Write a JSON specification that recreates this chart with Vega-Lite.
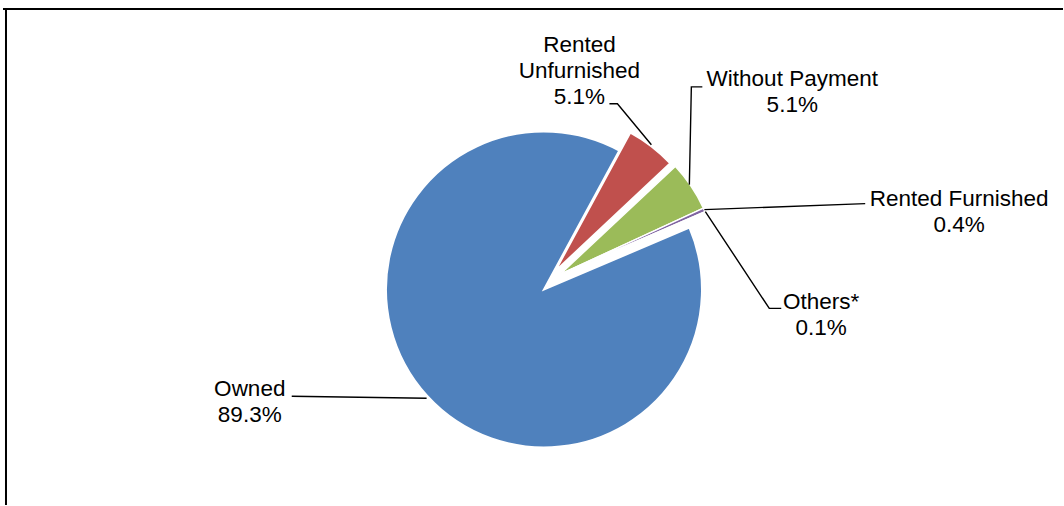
{
  "$schema": "https://vega.github.io/schema/vega-lite/v6.json",
  "width": 1064,
  "height": 506,
  "autosize": {"type": "fit", "contains": "padding"},
  "padding": 0,
  "background": "white",
  "config": {"view": {"stroke": null}, "font": "Liberation Sans"},
  "datasets": {
    "shares": [
      {"tenure": "Owned", "pct": 89.3},
      {"tenure": "Rented Unfurnished", "pct": 5.1},
      {"tenure": "Without Payment", "pct": 5.1},
      {"tenure": "Rented Furnished", "pct": 0.4},
      {"tenure": "Others*", "pct": 0.1}
    ],
    "labels": [
      {"tenure": "Owned", "name": "Owned", "lx": 250, "ly": 397},
      {"tenure": "Rented Unfurnished", "name": "Rented\nUnfurnished", "lx": 580, "ly": 52},
      {"tenure": "Without Payment", "name": "Without Payment", "lx": 793, "ly": 86},
      {"tenure": "Rented Furnished", "name": "Rented Furnished", "lx": 960, "ly": 206},
      {"tenure": "Others*", "name": "Others*", "lx": 822, "ly": 310}
    ],
    "leaders": [
      {"tenure": "Owned", "i": 0, "lx": 292, "ly": 397},
      {"tenure": "Owned", "i": 1, "lx": 427, "ly": 399},
      {"tenure": "Rented Unfurnished", "i": 0, "lx": 610, "ly": 104},
      {"tenure": "Rented Unfurnished", "i": 1, "lx": 618, "ly": 104},
      {"tenure": "Rented Unfurnished", "i": 2, "lx": 652, "ly": 145},
      {"tenure": "Without Payment", "i": 0, "lx": 703, "ly": 87},
      {"tenure": "Without Payment", "i": 1, "lx": 692, "ly": 87},
      {"tenure": "Without Payment", "i": 2, "lx": 690, "ly": 185},
      {"tenure": "Rented Furnished", "i": 0, "lx": 866, "ly": 204},
      {"tenure": "Rented Furnished", "i": 1, "lx": 705, "ly": 210},
      {"tenure": "Others*", "i": 0, "lx": 782, "ly": 309},
      {"tenure": "Others*", "i": 1, "lx": 770, "ly": 309},
      {"tenure": "Others*", "i": 2, "lx": 706, "ly": 212}
    ],
    "frame": [
      {"side": "left", "fx": 6, "fy": 9, "fx2": 6, "fy2": 506},
      {"side": "top", "fx": 3, "fy": 9, "fx2": 1064, "fy2": 9}
    ]
  },
  "layer": [
    {
      "data": {"name": "frame"},
      "mark": {"type": "rule", "color": "black", "strokeWidth": 2},
      "encoding": {
        "x": {"field": "fx", "type": "quantitative", "scale": {"domain": [0, 1064], "nice": false, "zero": false}, "axis": null},
        "y": {"field": "fy", "type": "quantitative", "scale": {"domain": [0, 506], "nice": false, "zero": false, "reverse": true}, "axis": null},
        "x2": {"field": "fx2"},
        "y2": {"field": "fy2"}
      }
    },
    {
      "data": {"name": "shares"},
      "transform": [
        {"stack": "pct", "groupby": [], "as": ["p0", "p1"]}
      ],
      "encoding": {
        "theta": {"field": "p0", "type": "quantitative", "stack": null, "scale": {"domain": [0, 100], "range": [1.1694, 7.4526]}},
        "theta2": {"field": "p1"},
        "color": {
          "field": "tenure", "type": "nominal", "legend": null,
          "scale": {
            "domain": ["Owned", "Rented Unfurnished", "Without Payment", "Rented Furnished", "Others*"],
            "range": ["#4F81BD", "#C0504D", "#9BBB59", "#8064A2", "#4BACC6"]
          }
        },
        "x": {"datum": 544.5, "type": "quantitative"},
        "y": {"datum": 290, "type": "quantitative"}
      },
      "layer": [
        {
          "transform": [{"filter": "datum.tenure === 'Owned'"}],
          "mark": {"type": "arc", "outerRadius": 158, "stroke": "white", "strokeWidth": 2}
        },
        {
          "transform": [{"filter": "datum.tenure === 'Rented Unfurnished'"}],
          "mark": {"type": "arc", "outerRadius": 158, "stroke": "white", "strokeWidth": 2, "xOffset": 11, "yOffset": -18}
        },
        {
          "transform": [{"filter": "datum.tenure !== 'Owned' && datum.tenure !== 'Rented Unfurnished'"}],
          "mark": {"type": "arc", "outerRadius": 158, "stroke": "white", "strokeWidth": 1.5, "xOffset": 16, "yOffset": -15}
        }
      ]
    },
    {
      "data": {"name": "leaders"},
      "mark": {"type": "line", "color": "black", "strokeWidth": 1.4},
      "encoding": {
        "x": {"field": "lx", "type": "quantitative"},
        "y": {"field": "ly", "type": "quantitative"},
        "detail": {"field": "tenure"},
        "order": {"field": "i", "type": "quantitative"}
      }
    },
    {
      "data": {"name": "labels"},
      "transform": [
        {"lookup": "tenure", "from": {"data": {"name": "shares"}, "key": "tenure", "fields": ["pct"]}},
        {"calculate": "datum.name + '\\n' + format(datum.pct, '.1f') + '%'", "as": "txt"}
      ],
      "mark": {"type": "text", "align": "center", "baseline": "alphabetic", "fontSize": 22.5, "lineHeight": 26, "lineBreak": "\n", "color": "black"},
      "encoding": {
        "x": {"field": "lx", "type": "quantitative"},
        "y": {"field": "ly", "type": "quantitative"},
        "text": {"field": "txt"}
      }
    }
  ]
}
